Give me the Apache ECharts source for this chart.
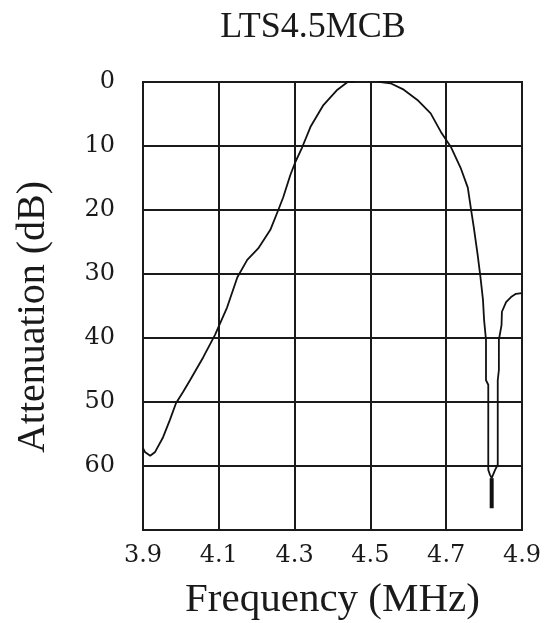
<!DOCTYPE html>
<html>
<head>
<meta charset="utf-8">
<script src="https://cdn.jsdelivr.net/npm/echarts@6/dist/echarts.min.js"></script>
<style>
html,body{margin:0;padding:0;background:#fff;}
#chart{width:545px;height:623px;}
</style>
</head>
<body>
<div id="chart"></div>
<script>
var titleText = 'LTS4.5MCB';
var xName = 'Frequency (MHz)';
var yName = 'Attenuation (dB)';
var xTicks = [3.9, 4.1, 4.3, 4.5, 4.7, 4.9];
var yTicks = [0, 10, 20, 30, 40, 50, 60];

var freq = [3.900, 3.905, 3.919, 3.932, 3.953, 3.971, 3.987, 4.006, 4.024, 4.059,
            4.090, 4.122, 4.149, 4.175, 4.204, 4.236, 4.257, 4.270, 4.289, 4.302,
            4.320, 4.342, 4.376, 4.413, 4.440, 4.453, 4.470, 4.505, 4.527, 4.553,
            4.588, 4.624, 4.659, 4.686, 4.712, 4.738, 4.757, 4.765, 4.773, 4.783,
            4.790, 4.797, 4.800, 4.805, 4.805, 4.811, 4.811, 4.815, 4.820, 4.829,
            4.836, 4.836, 4.839, 4.839, 4.846, 4.847, 4.858, 4.871, 4.884, 4.900];
var atten = [57.2, 57.8, 58.4, 57.8, 55.5, 52.8, 50.2, 48.4, 46.6, 43.0,
             39.5, 35.2, 30.5, 27.8, 26.0, 23.1, 20.0, 18.0, 14.5, 12.5,
             10.2, 7.0, 3.6, 1.2, 0.0, 0.0, -0.6, -0.6, 0.0, 0.2,
             1.2, 2.8, 4.9, 7.8, 10.1, 13.4, 16.5, 19.7, 22.8, 27.0,
             30.3, 34.0, 37.2, 40.3, 46.6, 47.3, 60.6, 61.3, 61.9, 60.6,
             59.8, 46.6, 45.0, 40.3, 38.0, 35.9, 34.4, 33.6, 33.1, 33.0];
var notchFreq = [4.820, 4.820];
var notchAtten = [61.9, 66.6];

function pairs(xs, ys) { return xs.map(function (x, i) { return [x, ys[i]]; }); }

var serif = 'Liberation Serif';
var tickFont = 'DejaVu Serif';
var chart = echarts.init(document.getElementById('chart'), null, {renderer: 'canvas'});
chart.setOption({
  backgroundColor: '#ffffff',
  animation: false,
  title: {
    text: titleText,
    left: 308,
    top: 5,
    textAlign: 'center',
    textStyle: {fontFamily: serif, fontSize: 36, fontWeight: 'normal', color: '#1a1a1a'}
  },
  grid: {left: 143, right: 23, top: 82, bottom: 93, show: true, borderColor: '#1a1a1a', borderWidth: 2,
         backgroundColor: 'transparent', containLabel: false, outerBoundsMode: 'none'},
  xAxis: {
    type: 'value', min: xTicks[0], max: xTicks[xTicks.length - 1], interval: 0.2,
    name: xName, nameLocation: 'middle', nameGap: 50,
    nameTextStyle: {fontFamily: serif, fontSize: 41, color: '#1a1a1a'},
    axisLine: {show: true, lineStyle: {color: '#1a1a1a', width: 2}},
    axisTick: {show: false},
    axisLabel: {fontFamily: tickFont, fontSize: 24, color: '#1a1a1a', margin: 14,
      formatter: function (v) { return Number(v).toFixed(1); }},
    splitLine: {show: true, lineStyle: {color: '#1a1a1a', width: 2}}
  },
  yAxis: {
    type: 'value', inverse: true, min: 0, max: 70, interval: 10,
    name: yName, nameLocation: 'middle', nameGap: 90,
    nameTextStyle: {fontFamily: serif, fontSize: 40, color: '#1a1a1a', padding: [0, 22, 0, 0]},
    axisLine: {show: true, lineStyle: {color: '#1a1a1a', width: 2}},
    axisTick: {show: false},
    axisLabel: {fontFamily: tickFont, fontSize: 24, color: '#1a1a1a', margin: 28,
      formatter: function (v) { return yTicks.indexOf(v) >= 0 ? String(v) : ''; }},
    splitLine: {show: true, lineStyle: {color: '#1a1a1a', width: 2}}
  },
  series: [
    {type: 'line', data: pairs(freq, atten), showSymbol: false, clip: true,
     lineStyle: {color: '#111', width: 1.8}},
    {type: 'line', data: pairs(notchFreq, notchAtten), showSymbol: false, clip: true,
     lineStyle: {color: '#111', width: 4}}
  ]
});
</script>
</body>
</html>
